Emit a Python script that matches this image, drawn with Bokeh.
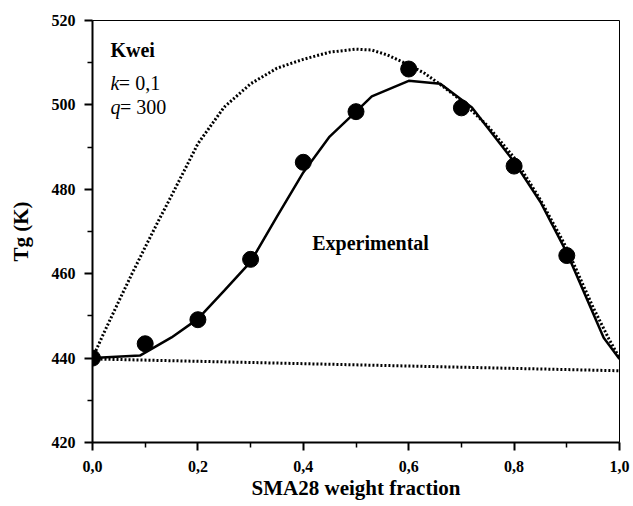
from bokeh.plotting import figure
from bokeh.models import FixedTicker, CustomJSTickFormatter, Range1d
from bokeh.core.properties import value
from bokeh.embed import file_html
from bokeh.resources import INLINE

# Experimental data
exp_x = [0.0, 0.1, 0.2, 0.3, 0.4, 0.5, 0.6, 0.7, 0.8, 0.9]
exp_tg = [440.0, 443.4, 449.1, 463.4, 486.4, 498.4, 508.5, 499.3, 485.5, 464.3]

# Solid fit curve
fit_x = [0.0, 0.09, 0.15, 0.2, 0.25, 0.3, 0.35, 0.4, 0.45, 0.5, 0.53, 0.6, 0.66, 0.72, 0.8, 0.85, 0.9, 0.97, 1.0]
fit_tg = [440.0, 440.6, 444.9, 449.3, 456.0, 462.8, 473.5, 484.0, 492.5, 498.4, 502.0, 505.7, 505.0, 499.4, 486.5, 477.0, 465.0, 444.8, 439.8]

# Kwei prediction (k=0.1, q=300), dotted
kwei_x = [0.0, 0.021, 0.05, 0.075, 0.1, 0.125, 0.15, 0.2, 0.25, 0.3, 0.35, 0.4, 0.45, 0.5,
          0.53, 0.56, 0.6, 0.63, 0.666, 0.7, 0.75, 0.8, 0.85, 0.9, 0.95, 0.98, 1.0]
kwei_tg = [440.0, 445.8, 453.5, 460.0, 466.3, 472.5, 478.5, 490.8, 499.5, 505.0, 508.7, 510.8, 512.5, 513.2,
           513.0, 511.8, 509.5, 507.5, 504.3, 501.0, 495.0, 487.5, 477.5, 466.0, 452.0, 444.5, 440.0]

# Linear mixing line, dotted
lin_x = [0.0, 1.0]
lin_tg = [439.8, 437.0]

x_ticks = [0.0, 0.2, 0.4, 0.6, 0.8, 1.0]
x_minor = [0.1, 0.3, 0.5, 0.7, 0.9]
y_ticks = [420, 440, 460, 480, 500, 520]
y_minor = [430, 450, 470, 490, 510]

serif = "Liberation Serif"

p = figure(width=633, height=506, output_backend="svg", toolbar_location=None,
           x_range=Range1d(0, 1), y_range=Range1d(420, 520),
           min_border_left=92, min_border_right=14, min_border_top=20, min_border_bottom=64)
p.xgrid.visible = False
p.ygrid.visible = False
p.outline_line_color = "black"
p.outline_line_width = 1
p.background_fill_color = "white"
p.border_fill_color = "white"

p.line(lin_x, lin_tg, line_color="black", line_width=3, line_dash="2 2")
p.line(kwei_x, kwei_tg, line_color="black", line_width=3, line_dash="2 2")
p.line(fit_x, fit_tg, line_color="black", line_width=2.5)
p.scatter(exp_x, exp_tg, size=16, fill_color="black", line_color="black")

fmt = CustomJSTickFormatter(code="return tick.toFixed(1).replace('.', ',');")
p.xaxis.ticker = FixedTicker(ticks=x_ticks, minor_ticks=x_minor)
p.xaxis.formatter = fmt
p.yaxis.ticker = FixedTicker(ticks=y_ticks, minor_ticks=y_minor)

for ax in (p.xaxis[0], p.yaxis[0]):
    ax.axis_line_width = 2
    ax.major_tick_line_width = 2
    ax.minor_tick_line_width = 1.5
    ax.major_tick_out = 8
    ax.major_tick_in = 0
    ax.minor_tick_out = 5
    ax.minor_tick_in = 0
    ax.major_label_text_font = serif
    ax.major_label_text_font_style = "bold"
    ax.major_label_text_font_size = "16px"
    ax.major_label_text_color = "black"
    ax.axis_label_text_font = serif
    ax.axis_label_text_font_style = "bold"
    ax.axis_label_text_font_size = "21px"
    ax.axis_label_text_color = "black"

p.xaxis.axis_label = "SMA28 weight fraction"
p.yaxis.axis_label = "Tg (K)"
p.xaxis.major_label_standoff = 10
p.yaxis.major_label_standoff = 9
p.xaxis.axis_label_standoff = 1
p.yaxis.axis_label_standoff = 16

p.text(x=[0.034], y=[512.9], text=["Kwei"], text_font=value(serif), text_font_style="bold",
       text_font_size="20px", text_color="black", text_baseline="alphabetic")
p.text(x=[0.034], y=[505.3], text=["k"], text_font=value(serif), text_font_style="italic",
       text_font_size="20px", text_color="black", text_baseline="alphabetic")
p.text(x=[0.050], y=[505.3], text=["= 0,1"], text_font=value(serif),
       text_font_size="20px", text_color="black", text_baseline="alphabetic")
p.text(x=[0.034], y=[499.6], text=["q"], text_font=value(serif), text_font_style="italic",
       text_font_size="20px", text_color="black", text_baseline="alphabetic")
p.text(x=[0.052], y=[499.6], text=["= 300"], text_font=value(serif),
       text_font_size="20px", text_color="black", text_baseline="alphabetic")
p.text(x=[0.417], y=[467.2], text=["Experimental"], text_font=value(serif), text_font_style="bold",
       text_font_size="20px", text_color="black", text_baseline="alphabetic")

open("out.html", "w").write(file_html(p, INLINE))
